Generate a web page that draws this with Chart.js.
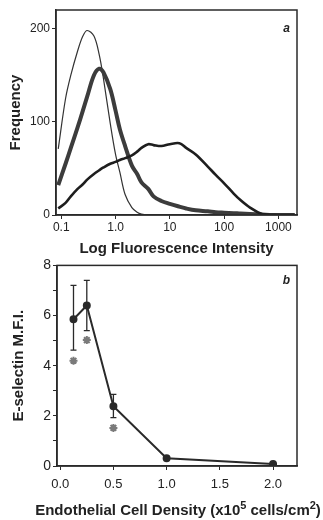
<!DOCTYPE html>
<html>
<head>
<meta charset="utf-8">
<script src="https://cdn.jsdelivr.net/npm/chart.js@4"></script>
<style>
  body { margin: 0; background: #fff; width: 323px; height: 520px; overflow: hidden; position: relative; }
  .panel { position: absolute; left: 0; width: 323px; }
</style>
</head>
<body>
<div class="panel" style="top:255px;height:265px"><canvas id="densityChart" width="323" height="265"></canvas></div>
<div class="panel" style="top:0;height:260px"><canvas id="histChart" width="323" height="260"></canvas></div>
<script>
// panel a - flow cytometry histograms
const intensity = [0.088, 0.12, 0.15, 0.2, 0.25, 0.3, 0.4, 0.5, 0.6, 0.8, 1, 1.2, 1.5, 2, 2.5, 3, 4, 5, 7, 10,
                   15, 20, 30, 50, 70, 100, 150, 200, 300, 500, 1000, 2000];
const controlFreq = [71, 125, 150, 176, 192, 198, 192, 172, 146, 98, 65, 46, 22, 8, 3, 1, 0, 0, 0, 0,
                     0, 0, 0, 0, 0, 0, 0, 0, 0, 0, 0, 0];
const unstimFreq = [32, 55, 72, 94, 112, 127, 150, 157, 153, 135, 112, 92, 74, 53, 44, 35, 28, 20, 15, 12,
                    9, 7, 5, 4, 3, 2.5, 2, 1.5, 1, 0.5, 0, 0];
const stimFreq = [7, 13, 20, 28, 33, 38, 44, 48, 51, 55, 57, 59, 61, 64, 68, 72, 76, 75, 74, 76,
                  77, 72, 65, 52, 43, 34, 23, 16, 8, 1, 0, 0];
const logTicks = [0.1, 1, 10, 100, 1000];
const logTickLabels = ['0.1', '1.0', '10', '100', '1000'];
const freqTicks = [0, 100, 200];

// panel b - E-selectin vs cell density
const density = [0.125, 0.25, 0.5, 1.0, 2.0];
const mfi = [5.85, 6.4, 2.38, 0.31, 0.08];
const mfiHigh = [7.2, 7.4, 2.86, null, null];
const mfiLow = [4.62, 5.4, 1.93, null, null];
const starX = [0.125, 0.25, 0.5];
const starY = [4.2, 5.02, 1.52];
const densityTicks = [0, 0.5, 1.0, 1.5, 2.0];
// x title pieces, true = superscript
const densityTitle = [['Endothelial Cell Density (x10', false], ['5', true], [' cells/cm', false], ['2', true], [')', false]];

const fontFamily = '"Liberation Sans", Arial, sans-serif';
Chart.defaults.font.family = fontFamily;
Chart.defaults.color = '#222';
Chart.defaults.animation = false;

const ink = '#2a2a2a';

const frameBox = {
  id: 'frameBox',
  afterDraw(chart, args, opts) {
    const { ctx, chartArea: a } = chart;
    ctx.save();
    ctx.strokeStyle = ink;
    ctx.lineWidth = 1.5;
    ctx.strokeRect(a.left, a.top, a.right - a.left, a.bottom - a.top);
    ctx.font = 'italic bold 12px ' + fontFamily;
    ctx.fillStyle = '#222';
    ctx.textAlign = 'right';
    ctx.fillText(opts.letter, a.right - 7, a.top + opts.dy);
    ctx.restore();
  }
};

const errorBars = {
  id: 'errorBars',
  afterDatasetsDraw(chart) {
    const { ctx, scales: { x, y } } = chart;
    ctx.save();
    ctx.strokeStyle = ink;
    ctx.lineWidth = 1.3;
    density.forEach((d, i) => {
      if (mfiHigh[i] == null) return;
      const px = x.getPixelForValue(d);
      const top = y.getPixelForValue(mfiHigh[i]);
      const bot = y.getPixelForValue(mfiLow[i]);
      ctx.beginPath();
      ctx.moveTo(px, top); ctx.lineTo(px, bot);
      ctx.moveTo(px - 3, top); ctx.lineTo(px + 3, top);
      ctx.moveTo(px - 3, bot); ctx.lineTo(px + 3, bot);
      ctx.stroke();
    });
    ctx.restore();
  }
};

// x title with real superscripts
const supTitle = {
  id: 'supTitle',
  afterDraw(chart) {
    const { ctx, scales: { x } } = chart;
    const big = 'bold 15px ' + fontFamily, small = 'bold 11px ' + fontFamily;
    ctx.save();
    ctx.fillStyle = '#222';
    ctx.textBaseline = 'alphabetic';
    let total = 0;
    densityTitle.forEach(([t, sup]) => { ctx.font = sup ? small : big; total += ctx.measureText(t).width; });
    let px = (x.left + x.right) / 2 + 1 - total / 2;
    const base = x.bottom - 5;
    densityTitle.forEach(([t, sup]) => {
      ctx.font = sup ? small : big;
      ctx.fillText(t, px, sup ? base - 6 : base);
      px += ctx.measureText(t).width;
    });
    ctx.restore();
  }
};

function curve(freq, width, color) {
  return {
    data: intensity.map((v, i) => ({ x: v, y: freq[i] })),
    borderColor: color,
    borderWidth: width,
    pointRadius: 0,
    tension: 0.35,
    fill: false
  };
}

new Chart(document.getElementById('histChart'), {
  type: 'line',
  data: {
    datasets: [
      curve(stimFreq, 2.6, '#1e1e1e'),
      curve(unstimFreq, 4, '#3c3c3c'),
      curve(controlFreq, 1.2, '#333')
    ]
  },
  options: {
    responsive: false,
    layout: { padding: { left: 0, right: 26, top: 10, bottom: 0 } },
    plugins: { legend: { display: false }, tooltip: { enabled: false }, frameBox: { letter: 'a', dy: 22 } },
    scales: {
      x: {
        type: 'logarithmic',
        min: 0.08, max: 2200,
        afterBuildTicks: s => { s.ticks = logTicks.map(v => ({ value: v })); },
        afterFit: s => { s.height = 45; },
        ticks: { callback: (v, i) => logTickLabels[i], font: { size: 12 }, padding: 1, maxRotation: 0, autoSkip: false },
        grid: { drawOnChartArea: false, tickLength: 4, color: ink },
        border: { color: ink, width: 1.5 },
        title: { display: true, text: 'Log Fluorescence Intensity', font: { size: 15, weight: 'bold' }, padding: { top: 0, bottom: 2 } }
      },
      y: {
        min: 0, max: 220,
        afterBuildTicks: s => { s.ticks = freqTicks.map(v => ({ value: v })); },
        afterFit: s => { s.width = 56; },
        ticks: { font: { size: 12 }, padding: 2 },
        grid: { drawOnChartArea: false, tickLength: 4, color: ink },
        border: { color: ink, width: 1.5 },
        title: { display: true, text: 'Frequency', font: { size: 15, weight: 'bold' }, padding: { top: 7, bottom: 0 } }
      }
    }
  },
  plugins: [frameBox]
});

new Chart(document.getElementById('densityChart'), {
  type: 'line',
  data: {
    datasets: [
      {
        data: density.map((d, i) => ({ x: d, y: mfi[i] })),
        borderColor: ink,
        borderWidth: 2,
        pointRadius: 3,
        pointBackgroundColor: ink,
        pointBorderColor: ink,
        tension: 0
      },
      {
        type: 'scatter',
        data: starX.map((d, i) => ({ x: d, y: starY[i] })),
        pointStyle: 'star',
        pointRadius: 4,
        borderColor: '#7a7a7a',
        borderWidth: 2,
        backgroundColor: '#7a7a7a',
        showLine: false
      }
    ]
  },
  options: {
    responsive: false,
    layout: { padding: { left: 0, right: 26, top: 9, bottom: 0 } },
    plugins: { legend: { display: false }, tooltip: { enabled: false }, frameBox: { letter: 'b', dy: 19 } },
    scales: {
      x: {
        type: 'linear',
        min: -0.03, max: 2.225,
        afterBuildTicks: s => { s.ticks = densityTicks.map(v => ({ value: v })); },
        afterFit: s => { s.height = 54; },
        ticks: { callback: v => v.toFixed(1), font: { size: 13 }, padding: 7, maxRotation: 0, autoSkip: false },
        grid: { drawOnChartArea: false, tickLength: 4, color: ink },
        border: { color: ink, width: 1.5 }
      },
      y: {
        min: 0, max: 8,
        ticks: { stepSize: 1, callback: v => (v % 2 === 0 ? v : ''), font: { size: 14 }, padding: 2 },
        afterFit: s => { s.width = 57; },
        grid: { drawOnChartArea: false, tickLength: 4, color: ink },
        border: { color: ink, width: 1.5 },
        title: { display: true, text: 'E-selectin M.F.I.', font: { size: 15, weight: 'bold' }, padding: { top: 10, bottom: 0 } }
      }
    }
  },
  plugins: [frameBox, errorBars, supTitle]
});
</script>
</body>
</html>
